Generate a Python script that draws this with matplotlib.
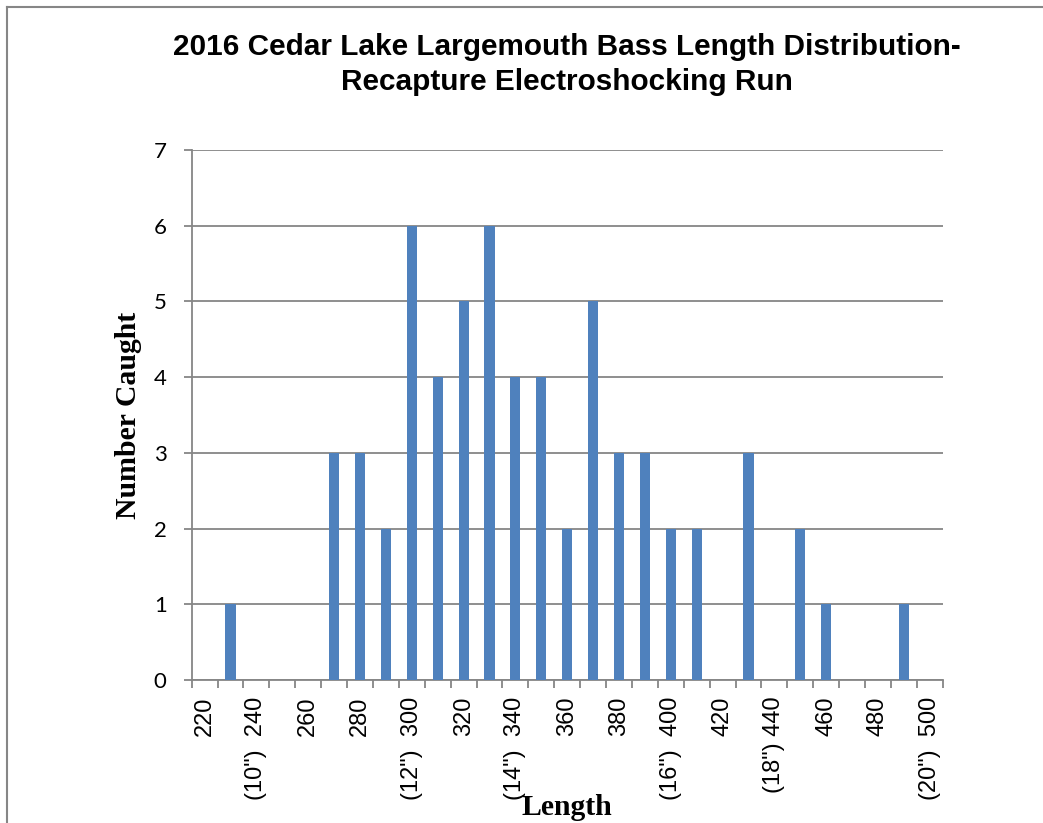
import matplotlib
matplotlib.use("Agg")
import matplotlib.pyplot as plt
from matplotlib.lines import Line2D
import numpy as np

# ── 数据 ──────────────────────────────────────────────────────────────
LENGTHS = list(range(220, 510, 10))          # 类别：220 ... 500 mm
CAUGHT = {
    230: 1, 270: 3, 280: 3, 290: 2, 300: 6, 310: 4, 320: 5, 330: 6,
    340: 4, 350: 4, 360: 2, 370: 5, 380: 3, 390: 3, 400: 2, 410: 2,
    430: 3, 450: 2, 460: 1, 490: 1,
}
INCH_MARKS = {240: '(10")', 300: '(12")', 340: '(14")', 400: '(16")',
              440: '(18")', 500: '(20")'}

TITLE = ["2016 Cedar Lake Largemouth Bass Length Distribution-",
         "Recapture Electroshocking Run"]

BAR_COLOR = "#4F81BD"
GRID_COLOR = "#868686"

W, H = 1043, 823


def tick_label(v):
    if v % 20:
        return ""
    if v in INCH_MARKS:
        gap = " " if v == 440 else "  "
        return f"{INCH_MARKS[v]}{gap}{v}"
    return str(v)


counts = [CAUGHT.get(v, 0) for v in LENGTHS]
x = np.arange(len(LENGTHS))

fig = plt.figure(figsize=(W / 100, H / 100), dpi=100)
ax = fig.add_axes([191.7 / W, 1 - 680 / H, (942.7 - 191.7) / W, (680 - 150) / H])

ax.bar(x, counts, width=0.39, color=BAR_COLOR, zorder=3)

ax.set_xlim(-0.5, len(LENGTHS) - 0.5)
ax.set_ylim(0, 7)
ax.set_yticks(range(0, 8))
ax.yaxis.grid(True, color=GRID_COLOR, linewidth=1.3, zorder=0)

# 刻度线放在类别之间，标签放在类别中心
ax.set_xticks(np.arange(len(LENGTHS) + 1) - 0.5)
ax.set_xticklabels([])
ax.set_xticks(x, minor=True)
ax.set_xticklabels([tick_label(v) for v in LENGTHS], minor=True,
                   rotation=90, fontsize=17, family="Liberation Sans",
                   va="top", ha="center")
ax.tick_params(axis="x", which="minor", length=0, pad=12)
ax.tick_params(axis="x", which="major", length=6, width=1.3, color=GRID_COLOR,
               direction="out")
ax.tick_params(axis="y", length=6, width=1.3, color=GRID_COLOR, pad=12,
               labelsize=16)
for lab in ax.get_yticklabels():
    lab.set_family("Lato")

for side in ("top", "right"):
    ax.spines[side].set_visible(False)
for side in ("left", "bottom"):
    ax.spines[side].set_color(GRID_COLOR)
    ax.spines[side].set_linewidth(1.3)

# 标题与坐标轴标题
fig.text(567 / W, 1 - 47 / H, TITLE[0], ha="center", va="center",
         fontsize=21.4, fontweight="bold", family="Liberation Sans")
fig.text(567 / W, 1 - 82 / H, TITLE[1], ha="center", va="center",
         fontsize=21.4, fontweight="bold", family="Liberation Sans")
fig.text(129 / W, 1 - 415 / H, "Number Caught", rotation=90,
         ha="center", va="center", fontsize=21.4, fontweight="bold",
         family="Liberation Serif")
fig.text(567 / W, 1 - 815 / H, "Length", ha="center", va="baseline",
         fontsize=21.4, fontweight="bold", family="Liberation Serif")

# 外框（只露出左边和上边）
fig.add_artist(Line2D([7 / W, 7 / W], [0, 1 - 7 / H], color=GRID_COLOR,
                      linewidth=1.5, transform=fig.transFigure))
fig.add_artist(Line2D([7 / W, 1], [1 - 7 / H, 1 - 7 / H], color=GRID_COLOR,
                      linewidth=1.5, transform=fig.transFigure))

fig.savefig("out.png", dpi=100)
